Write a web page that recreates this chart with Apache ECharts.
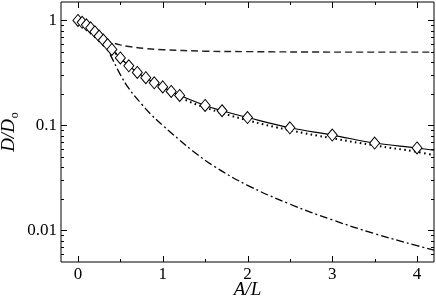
<!DOCTYPE html>
<html><head><meta charset="utf-8">
<script src="https://cdn.jsdelivr.net/npm/echarts@6/dist/echarts.min.js"></script>
<style>html,body{margin:0;padding:0;background:#fff}#c{width:436px;height:298px}</style>
</head><body><div id="c"></div>
<script>
// Simulation markers (diamonds)
const markerX = [0, 0.05, 0.1, 0.15, 0.2, 0.25, 0.3, 0.35, 0.4, 0.5, 0.6, 0.7, 0.8, 0.9, 1.0, 1.1, 1.2, 1.5, 1.7, 2.0, 2.5, 3.0, 3.5, 4.0];
const markerY = [1.0, 0.96, 0.91, 0.85, 0.78, 0.71, 0.65, 0.59, 0.53, 0.44, 0.37, 0.32, 0.285, 0.255, 0.233, 0.211, 0.193, 0.155, 0.138, 0.119, 0.095, 0.081, 0.068, 0.061];
// Solid curve
const solidX = [0, 0.05, 0.1, 0.15, 0.2, 0.25, 0.3, 0.35, 0.4, 0.5, 0.6, 0.7, 0.8, 0.9, 1.0, 1.1, 1.2, 1.5, 1.7, 2.0, 2.5, 3.0, 3.5, 4.0, 4.2];
const solidY = [1.0, 0.96, 0.91, 0.85, 0.78, 0.71, 0.65, 0.59, 0.53, 0.44, 0.37, 0.32, 0.285, 0.255, 0.233, 0.211, 0.193, 0.155, 0.138, 0.119, 0.095, 0.081, 0.068, 0.061, 0.058];
// Dotted curve
const dottedX = [0, 0.1, 0.2, 0.3, 0.4, 0.5, 0.6, 0.8, 1.0, 1.2, 1.5, 2.0, 2.5, 3.0, 3.5, 4.0, 4.2];
const dottedY = [1.0, 0.91, 0.78, 0.65, 0.53, 0.44, 0.365, 0.28, 0.225, 0.185, 0.148, 0.112, 0.09, 0.0755, 0.0645, 0.056, 0.052];
// Dashed curve
const dashedX = [0, 0.1, 0.2, 0.3, 0.35, 0.4, 0.5, 0.6, 0.8, 1.0, 1.5, 2.0, 3.0, 4.2];
const dashedY = [1.0, 0.91, 0.78, 0.66, 0.635, 0.615, 0.585, 0.565, 0.54, 0.527, 0.51, 0.505, 0.5, 0.5];
// Dash-dot curve
const dashDotX = [0, 0.1, 0.2, 0.3, 0.35, 0.4, 0.5, 0.6, 0.75, 0.85, 1.0, 1.2, 1.35, 1.6, 2.0, 2.5, 3.0, 3.5, 4.0, 4.2];
const dashDotY = [1.0, 0.91, 0.78, 0.63, 0.53, 0.44, 0.305, 0.225, 0.16, 0.13, 0.1, 0.0725, 0.0575, 0.0411, 0.0269, 0.0178, 0.0126, 0.0093, 0.00716, 0.0065];
// Ticks and labels
const xMajorTicks = [0, 1, 2, 3, 4];
const xTickLabels = ['0', '1', '2', '3', '4'];
const xMinorTicks = [0.5, 1.5, 2.5, 3.5];
const yMajorTicks = [0.01, 0.1, 1];
const yTickLabels = ['0.01', '0.1', '1'];
const yMinorTicks = [0.006, 0.007, 0.008, 0.009, 0.02, 0.03, 0.04, 0.05, 0.06, 0.07, 0.08, 0.09, 0.2, 0.3, 0.4, 0.5, 0.6, 0.7, 0.8, 0.9];

const zip = (xs, ys) => xs.map((x, i) => [x, ys[i]]);
const FONT = '"Liberation Serif", "Times New Roman", Times, serif';

function xTickItem(params, api) {
  const v = api.value(0), major = api.value(1);
  const cs = params.coordSys;
  const px = Math.round(api.coord([v, 1])[0]) + 0.5;
  const len = major ? 6 : 3;
  const b = cs.y + cs.height, t = cs.y;
  return {type: 'group', children: [
    {type: 'line', shape: {x1: px, y1: b, x2: px, y2: b - len}, style: {stroke: '#000', lineWidth: 1}},
    {type: 'line', shape: {x1: px, y1: t, x2: px, y2: t + len}, style: {stroke: '#000', lineWidth: 1}}
  ]};
}
function yTickItem(params, api) {
  const v = api.value(1), major = api.value(2);
  const cs = params.coordSys;
  const py = Math.round(api.coord([1, v])[1]) + 0.5;
  const len = major ? 6 : 3;
  const l = cs.x, r = cs.x + cs.width;
  return {type: 'group', children: [
    {type: 'line', shape: {x1: l, y1: py, x2: l + len, y2: py}, style: {stroke: '#000', lineWidth: 1}},
    {type: 'line', shape: {x1: r, y1: py, x2: r - len, y2: py}, style: {stroke: '#000', lineWidth: 1}}
  ]};
}

const xTickData = xMajorTicks.map(v => [v, 1, 0.5]).concat(xMinorTicks.map(v => [v, 0, 0.5]));
const yTickData = yMajorTicks.map(v => [1, v, 1]).concat(yMinorTicks.map(v => [1, v, 0]));

const chart = echarts.init(document.getElementById('c'), null, {renderer: 'canvas'});
chart.setOption({
  animation: false,
  backgroundColor: '#fff',
  textStyle: {fontFamily: FONT},
  grid: {left: 61, right: 2, top: 2, bottom: 36, outerBoundsMode: 'none', containLabel: false,
    show: true, borderColor: '#000', borderWidth: 1, backgroundColor: 'transparent'},
  xAxis: {
    type: 'value', min: -0.2, max: 4.2,
    axisLine: {show: false}, axisTick: {show: false}, splitLine: {show: false},
    axisLabel: {
      fontFamily: FONT, fontSize: 17, color: '#000', margin: 4,
      showMinLabel: false, showMaxLabel: false,
      formatter: v => { const i = xMajorTicks.findIndex(t => Math.abs(t - v) < 1e-6); return i >= 0 ? xTickLabels[i] : ''; }
    },
    name: 'A/L', nameLocation: 'middle', nameGap: 18, nameMoveOverlap: false,
    nameTextStyle: {fontFamily: FONT, fontStyle: 'italic', fontSize: 19, color: '#000'}
  },
  yAxis: {
    type: 'log', logBase: 10, min: 0.005, max: 1.5,
    axisLine: {show: false}, axisTick: {show: false}, splitLine: {show: false}, minorTick: {show: false},
    axisLabel: {
      fontFamily: FONT, fontSize: 17, color: '#000', margin: 4,
      formatter: v => { const i = yMajorTicks.findIndex(t => Math.abs(Math.log10(t) - Math.log10(v)) < 1e-6); return i >= 0 ? yTickLabels[i] : ''; }
    },
    name: '{m|D/D}{s|o}', nameLocation: 'middle', nameGap: 40, nameRotate: 90, nameMoveOverlap: false,
    nameTextStyle: {
      color: '#000', fontFamily: FONT,
      rich: {
        m: {fontFamily: FONT, fontStyle: 'italic', fontSize: 19, color: '#000', lineHeight: 24, verticalAlign: 'middle'},
        s: {fontFamily: FONT, fontSize: 12, color: '#000', lineHeight: 24, verticalAlign: 'bottom', padding: [0, 0, 0, 1]}
      }
    }
  },
  series: [
    {type: 'line', data: zip(dashedX, dashedY), smooth: 0.4, showSymbol: false, symbol: 'none',
      lineStyle: {color: '#222', width: 1.4, type: [7, 4]}, z: 2},
    {type: 'line', data: zip(dashDotX, dashDotY), smooth: 0.4, showSymbol: false, symbol: 'none',
      lineStyle: {color: '#000', width: 1.3, type: [8, 3, 2, 3]}, z: 2},
    {type: 'line', data: zip(dottedX, dottedY), smooth: 0.4, showSymbol: false, symbol: 'none',
      lineStyle: {color: '#000', width: 2, type: [1.6, 3.4]}, z: 2},
    {type: 'line', data: zip(solidX, solidY), smooth: 0.4, showSymbol: false, symbol: 'none',
      lineStyle: {color: '#000', width: 1.2, type: 'solid'}, z: 3},
    {type: 'scatter', data: zip(markerX, markerY), symbol: 'diamond', symbolSize: [10, 12],
      itemStyle: {color: '#fff', borderColor: '#000', borderWidth: 1, opacity: 1}, z: 4},
    {type: 'custom', renderItem: xTickItem, data: xTickData, encode: {x: 0, y: 2}, silent: true, z: 5, clip: false},
    {type: 'custom', renderItem: yTickItem, data: yTickData, encode: {x: 0, y: 1}, silent: true, z: 5, clip: false}
  ]
});
</script>
</body></html>
